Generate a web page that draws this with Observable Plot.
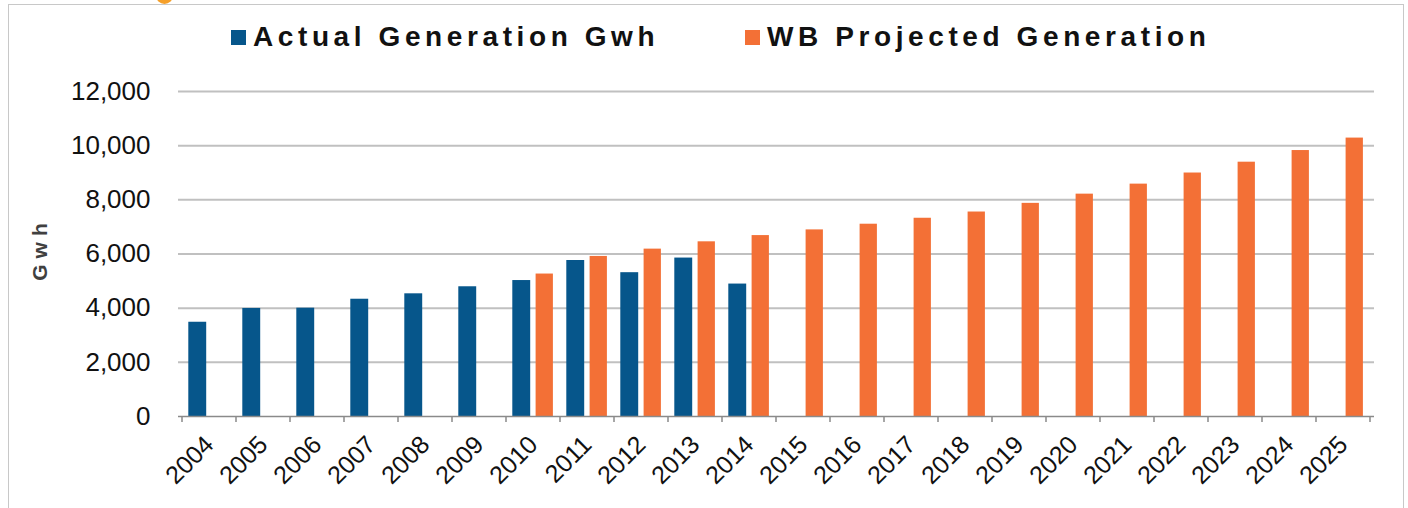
<!DOCTYPE html>
<html>
<head>
<meta charset="utf-8">
<script src="https://cdn.jsdelivr.net/npm/d3@7"></script>
<script src="https://cdn.jsdelivr.net/npm/@observablehq/plot@0.6"></script>
<style>
  html, body { margin: 0; padding: 0; background: #fff; width: 1408px; height: 508px; overflow: hidden; }
  body { position: relative; font-family: "Liberation Sans", Arial, sans-serif; }
  #frame { position: absolute; left: 8px; top: 4px; width: 1396px; height: 520px; border: 1.5px solid #c8c8c8; box-sizing: border-box; }
  #dot { position: absolute; left: 156px; top: -13px; width: 17px; height: 17px; border-radius: 50%; background: #f5a02a; }
  #legend { position: absolute; left: 0; top: 0; width: 1408px; height: 60px; }
  .item { position: absolute; top: 21px; display: flex; align-items: center; font-weight: bold; font-size: 28px; letter-spacing: 4.6px; color: #111; white-space: nowrap; }
  .sw { width: 15px; height: 15px; margin-right: 7px; }
  #chart { position: absolute; left: 0; top: 60px; }
  #ylabel { position: absolute; left: 39px; top: 252px; width: 0; height: 0; }
  #ylabel span { position: absolute; left: 0; top: 0; transform: translate(-50%, -50%) rotate(-90deg); font-weight: bold; font-size: 21px; letter-spacing: 6px; color: #404040; white-space: nowrap; line-height: 1; padding-left: 6px; }
</style>
</head>
<body>
<div id="frame"></div>
<div id="dot"></div>
<div id="legend"></div>
<div id="chart"></div>
<div id="ylabel"><span></span></div>
<script>
// ---- data ----
const years = ["2004","2005","2006","2007","2008","2009","2010","2011","2012","2013","2014",
               "2015","2016","2017","2018","2019","2020","2021","2022","2023","2024","2025"];
const actualYears = ["2004","2005","2006","2007","2008","2009","2010","2011","2012","2013","2014"];
const actualValues = [3480, 3990, 4000, 4330, 4530, 4790, 5020, 5760, 5310, 5850, 4890];
const projYears = ["2010","2011","2012","2013","2014","2015","2016","2017","2018","2019","2020",
                   "2021","2022","2023","2024","2025"];
const projValues = [5260, 5910, 6180, 6450, 6680, 6890, 7100, 7320, 7550, 7870, 8210,
                    8580, 8990, 9390, 9820, 10280];
const seriesNames = ["Actual Generation Gwh", "WB Projected Generation"];
const seriesColors = ["#06568b", "#f37036"];
const yTicks = [0, 2000, 4000, 6000, 8000, 10000, 12000];
const yLabel = "Gwh";

const actual = actualYears.map((y, i) => ({year: y, value: actualValues[i]}));
const proj = projYears.map((y, i) => ({year: y, value: projValues[i]}));

// ---- legend ----
const legend = document.getElementById("legend");
const legendLeft = [231, 745];
seriesNames.forEach((name, i) => {
  const it = document.createElement("div");
  it.className = "item";
  it.style.left = legendLeft[i] + "px";
  const sw = document.createElement("span");
  sw.className = "sw";
  sw.style.background = seriesColors[i];
  const tx = document.createElement("span");
  tx.textContent = name;
  it.appendChild(sw); it.appendChild(tx);
  legend.appendChild(it);
});
document.querySelector("#ylabel span").textContent = yLabel;

// ---- chart ----
const plot = Plot.plot({
  width: 1408,
  height: 448,
  marginTop: 31,
  marginBottom: 92,
  marginLeft: 178,
  marginRight: 34,
  style: { fontFamily: "'Liberation Sans', Arial, sans-serif", background: "transparent", color: "#111" },
  x: { type: "band", domain: years, padding: 0, label: null },
  y: { domain: [0, 12000], label: null },
  marks: [
    Plot.gridY(yTicks.filter(d => d > 0), { stroke: "#c0c0c0", strokeOpacity: 1, strokeWidth: 2 }),
    Plot.axisY({ ticks: yTicks, tickSize: 0, tickPadding: 28, tickFormat: d3.format(","), fontSize: 26, label: null }),
    Plot.axisX({ tickSize: 0, tickPadding: 24, tickRotate: -45, fontSize: 25, label: null }),
    Plot.barY(actual, { x: "year", y: "value", fill: seriesColors[0], insetLeft: 6.3, insetRight: 29.8 }),
    Plot.barY(proj, { x: "year", y: "value", fill: seriesColors[1], insetLeft: 29.6, insetRight: 7.1 }),
    Plot.ruleY([0], { stroke: "#8a8a8a", strokeWidth: 1.5 })
  ]
});

// category boundary ticks below the baseline
const xs = plot.scale("x"), ys = plot.scale("y");
const y0 = ys.apply(0);
const bounds = years.map(y => xs.apply(y)).concat([xs.apply(years[years.length - 1]) + xs.bandwidth]);
const g = d3.select(plot).append("g").attr("stroke", "#8a8a8a").attr("stroke-width", 1.5);
bounds.forEach(b => g.append("line").attr("x1", b).attr("x2", b).attr("y1", y0).attr("y2", y0 + 6));

document.getElementById("chart").appendChild(plot);
</script>
</body>
</html>
